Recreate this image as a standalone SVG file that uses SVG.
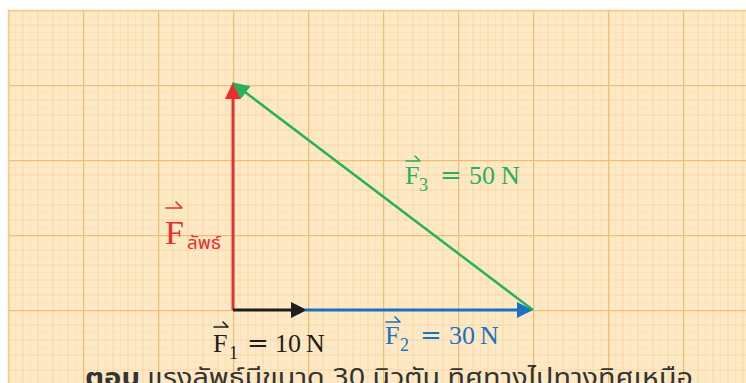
<svg xmlns="http://www.w3.org/2000/svg" width="746" height="383" viewBox="0 0 746 383">
<defs>
<pattern id="grid" x="8" y="10" width="75" height="75" patternUnits="userSpaceOnUse">
<rect width="75" height="75" fill="#fde9c6"/>
<path d="M7.5,0V75M22.5,0V75M37.5,0V75M52.5,0V75M67.5,0V75M0,7.5H75M0,22.5H75M0,37.5H75M0,52.5H75M0,67.5H75" stroke="#fbe2b8" stroke-width="0.8" fill="none"/>
<path d="M15,0V75M30,0V75M45,0V75M60,0V75M0,15H75M0,30H75M0,45H75M0,60H75" stroke="#f8d7a2" stroke-width="1" fill="none"/>
<path d="M0.5,0V75M0,0.5H75" stroke="#f1bd72" stroke-width="1.5" fill="none"/>
</pattern>
<marker id="hRed" markerUnits="userSpaceOnUse" markerWidth="18" markerHeight="18" refX="6" refY="8" orient="auto"><path d="M0,0L17,8L0,16z" fill="#ec2d2f"/></marker>
<marker id="hBlack" markerUnits="userSpaceOnUse" markerWidth="18" markerHeight="18" refX="6" refY="8" orient="auto"><path d="M0,0L16,8L0,16z" fill="#1e1e1e"/></marker>
<marker id="hBlue" markerUnits="userSpaceOnUse" markerWidth="18" markerHeight="18" refX="6" refY="8" orient="auto"><path d="M0,0L16,8L0,16z" fill="#1a73c2"/></marker>
<marker id="hGreen" markerUnits="userSpaceOnUse" markerWidth="18" markerHeight="18" refX="6" refY="8" orient="auto"><path d="M0,0L17,8L0,16z" fill="#27b15a"/></marker>
</defs>
<style>
.math{font-family:"Liberation Serif","Times New Roman",serif;}
.eq{font-family:"DejaVu Serif",serif;}
.thai{font-family:"Noto Sans Thai","Noto Sans","DejaVu Sans",sans-serif;fill:#333333;font-size:25px;}
.vec{stroke-width:1.6;fill:none;stroke-linecap:round;}
</style>
<rect x="0" y="0" width="746" height="383" fill="#ffffff"/>
<rect x="8" y="10" width="738" height="373" fill="url(#grid)"/>
<line x1="8" y1="10.5" x2="746" y2="10.5" stroke="#f6cd85" stroke-width="1.5"/>
<line x1="8.5" y1="10" x2="8.5" y2="383" stroke="#f6cd85" stroke-width="1.5"/>

<g id="connectors">
<line x1="233" y1="310" x2="233" y2="93" stroke="#ec2d2f" stroke-width="3" marker-end="url(#hRed)"/>
<line x1="233" y1="310" x2="297" y2="310" stroke="#1e1e1e" stroke-width="3" marker-end="url(#hBlack)"/>
<line x1="305" y1="310" x2="523" y2="310" stroke="#1a73c2" stroke-width="3" marker-end="url(#hBlue)"/>
<line x1="533" y1="310" x2="241" y2="89" stroke="#27b15a" stroke-width="2.5" marker-end="url(#hGreen)"/>
</g>

<g id="label-resultant">
<text class="math" x="165" y="244" font-size="34" fill="#ec2d2f">F</text>
<path class="vec" d="M166,208H182M176,202L182,208" stroke="#ec2d2f" stroke-width="2"/>
<text x="187" y="249" font-size="17" textLength="34" lengthAdjust="spacingAndGlyphs" font-family="'Noto Sans Thai','Noto Sans','DejaVu Sans',sans-serif" fill="#ec2d2f">ลัพธ์</text>
</g>

<g id="label-f1">
<text class="math" y="352" font-size="26" fill="#1e1e1e"><tspan x="213">F</tspan><tspan x="229" y="359" font-size="18">1</tspan><tspan class="eq" x="247" y="352">=</tspan><tspan x="275">10</tspan><tspan x="306">N</tspan></text>
<path class="vec" d="M214,327H228M223,322L228,327" stroke="#1e1e1e"/>
</g>

<g id="label-f2">
<text class="math" y="344" font-size="26" fill="#1a73c2"><tspan x="385">F</tspan><tspan x="400" y="351" font-size="18">2</tspan><tspan class="eq" x="420" y="344">=</tspan><tspan x="449">30</tspan><tspan x="480">N</tspan></text>
<path class="vec" d="M386,322H400M395,317L400,322" stroke="#1a73c2"/>
</g>

<g id="label-f3">
<text class="math" y="184" font-size="26" fill="#27b15a"><tspan x="405">F</tspan><tspan x="419" y="191" font-size="18">3</tspan><tspan class="eq" x="440" y="184">=</tspan><tspan x="469">50</tspan><tspan x="501">N</tspan></text>
<path class="vec" d="M406,161H420M415,156L420,161" stroke="#27b15a"/>
</g>

<g id="answer">
<text class="thai" x="85" y="386" font-weight="bold" textLength="55" lengthAdjust="spacingAndGlyphs">ตอบ</text>
<text class="thai" x="147" y="386" textLength="546" lengthAdjust="spacingAndGlyphs">แรงลัพธ์มีขนาด 30 นิวตัน ทิศทางไปทางทิศเหนือ</text>
</g>
</svg>
